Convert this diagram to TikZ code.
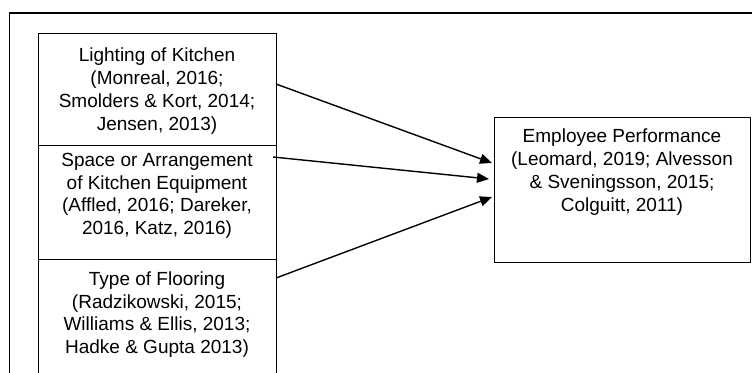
\documentclass[tikz,border=0pt]{standalone}
\usepackage{fontspec}
\setmainfont{Liberation Sans}
\usetikzlibrary{arrows.meta}
\begin{document}
\begin{tikzpicture}[x=1pt,y=-1pt,
  box/.style={draw, line width=0.9pt, inner sep=0pt, outer sep=0pt, anchor=north west},
  cite/.style={align=center, inner sep=0pt, anchor=north, font=\fontsize{19}{22.7}\selectfont},
  link/.style={line width=1.4pt, -{Triangle[length=12pt,width=10pt]}}]
\useasboundingbox (0,0) rectangle (752,372);
\clip (0,0) rectangle (752,372);
% outer frame (top and left edges)
\draw[line width=1.6pt] (9.5,380) -- (9.5,12.8) -- (760,12.8);

% factor boxes on the left
\node[box, minimum width=238pt, minimum height=112pt] (light) at (38,33) {};
\node[box, minimum width=238pt, minimum height=114pt] (space) at (38,145) {};
\node[box, minimum width=238pt, minimum height=118pt] (floor) at (38,259) {};

\node[cite] (lighttxt) at ([yshift=-15pt]light.north)
  {Lighting of Kitchen\\(Monreal, 2016;\\Smolders \& Kort, 2014;\\Jensen, 2013)};
\node[cite] (spacetxt) at ([yshift=-8pt]space.north)
  {Space or Arrangement\\of Kitchen Equipment\\(Affled, 2016; Dareker,\\2016, Katz, 2016)};
\node[cite] (floortxt) at ([yshift=-12.5pt]floor.north)
  {Type of Flooring\\(Radzikowski, 2015;\\Williams \& Ellis, 2013;\\Hadke \& Gupta 2013)};

% outcome box on the right
\node[box, minimum width=256pt, minimum height=145pt] (perf) at (494,117) {};
\node[cite] (perftxt) at ([yshift=-12pt]perf.north)
  {Employee Performance\\(Leomard, 2019; Alvesson\\\& Sveningsson, 2015;\\Colguitt, 2011)};

% links
\draw[link] ([yshift=5pt]light.east) -- ([xshift=-2pt,yshift=26.5pt]perf.west);
\draw[link] ([xshift=-3pt,yshift=45pt]space.east) -- ([xshift=-5pt,yshift=10.5pt]perf.west);
\draw[link] ([yshift=40pt]floor.east) -- ([xshift=-2pt,yshift=-7.5pt]perf.west);
\end{tikzpicture}
\end{document}
